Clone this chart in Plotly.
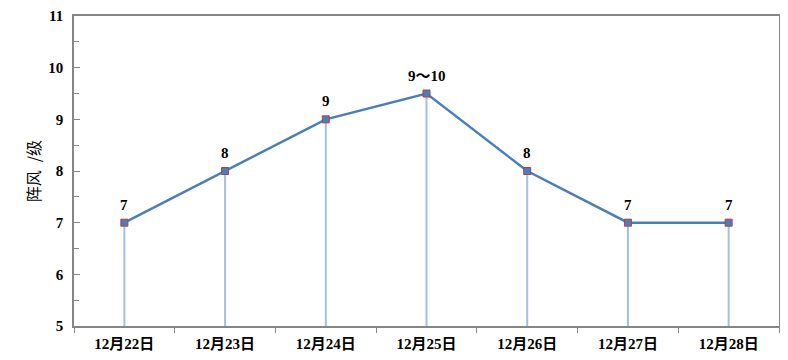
import plotly.graph_objects as go

categories = ["12月22日", "12月23日", "12月24日", "12月25日", "12月26日", "12月27日", "12月28日"]
gust = [7, 8, 9, 9.5, 8, 7, 7]
labels = ["7", "8", "9", "9～10", "8", "7", "7"]
y_base = 5

serif = "Liberation Serif, Times New Roman, Noto Sans CJK SC, serif"

drop_x, drop_y = [], []
for c, v in zip(categories, gust):
    drop_x += [c, c, None]
    drop_y += [y_base, v, None]

fig = go.Figure()
fig.add_trace(go.Scatter(
    x=drop_x, y=drop_y, mode="lines",
    line=dict(color="#a6bfe0", width=2), hoverinfo="skip", showlegend=False,
))
fig.add_trace(go.Scatter(
    x=categories, y=gust, mode="lines+markers",
    line=dict(color="#4a7ebb", width=2.5),
    marker=dict(symbol="square", size=7, color="#4a7ebb", line=dict(color="#b0413e", width=1)),
    showlegend=False,
))
for c, v, t in zip(categories, gust, labels):
    fig.add_annotation(
        x=c, y=v, text=t, showarrow=False, yanchor="middle", yshift=18,
        font=dict(family=serif, size=15, color="black", weight="bold"),
    )

fig.update_layout(
    width=780, height=352,
    margin=dict(l=66, r=9, t=8, b=34, autoexpand=False),
    paper_bgcolor="white", plot_bgcolor="white",
    font=dict(family=serif, color="black"),
)
fig.update_xaxes(
    type="category", range=[-0.5, 6.5],
    showgrid=False, showline=True, linecolor="#868686", linewidth=1.5, mirror=True,
    ticks="outside", tickson="boundaries", ticklen=5, tickcolor="#868686",
    ticklabelstandoff=3,
    tickfont=dict(family=serif, size=15, color="black", weight="bold"),
)
fig.update_yaxes(
    range=[5, 11], dtick=1, tick0=5,
    showgrid=False, showline=True, linecolor="#868686", linewidth=1.5, mirror=True,
    ticks="inside", ticklen=6, tickcolor="#868686", ticklabelstandoff=6,
    minor=dict(dtick=0.5, ticks="inside", ticklen=5, tickcolor="#868686", showgrid=False),
    tickfont=dict(family=serif, size=15, color="black", weight="bold"),
    zeroline=False,
    title=dict(text="阵风\u2002/级", font=dict(family="Noto Sans CJK SC", size=16, color="black"), standoff=4),
)

fig.write_html("out.html")
